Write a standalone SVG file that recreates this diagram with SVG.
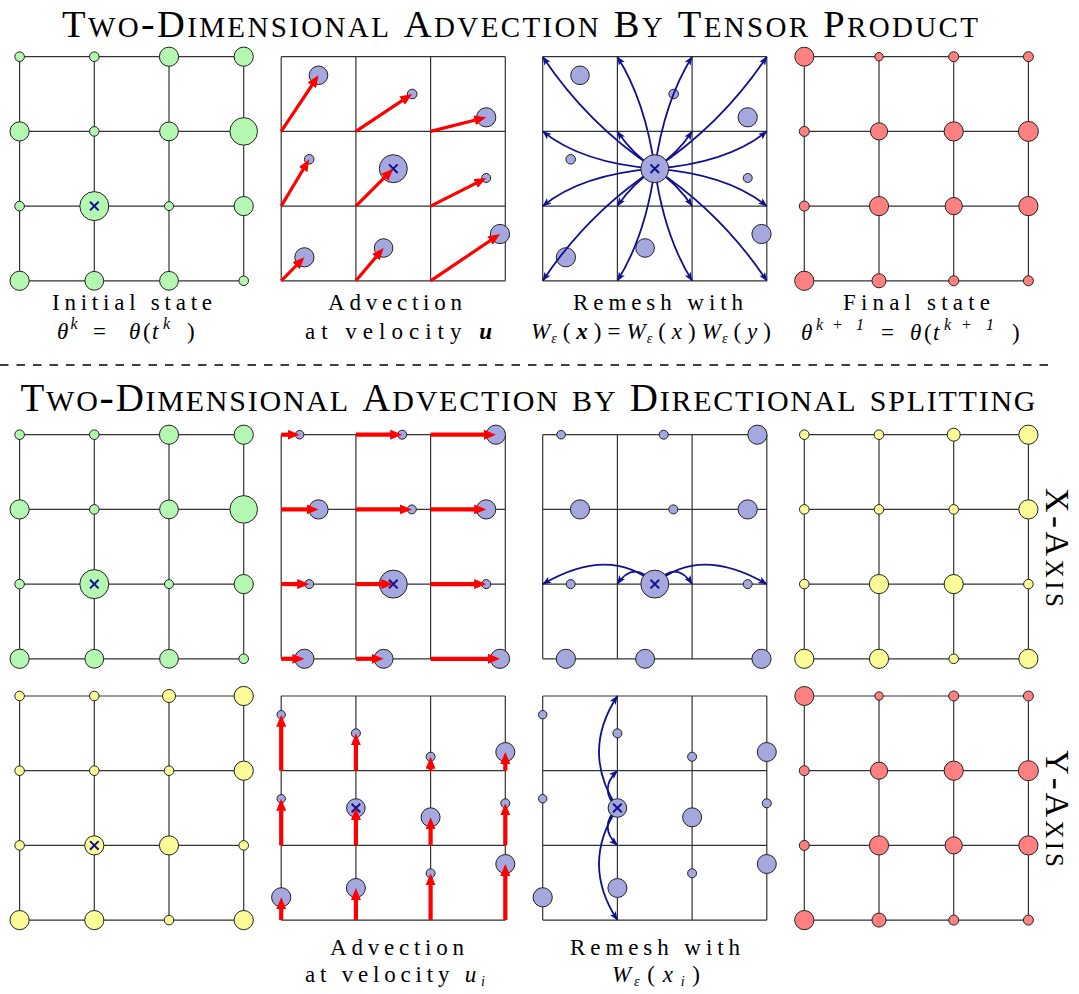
<svg xmlns="http://www.w3.org/2000/svg" xmlns:xlink="http://www.w3.org/1999/xlink" width="1079" height="994" viewBox="0 0 1079 994">
<style>
.grid{fill:none;stroke:#333;stroke-width:1.2}
.g{fill:#b3f7b0;stroke:#222;stroke-width:1}
.b{fill:#a5a7df;stroke:#222;stroke-width:1}
.r{fill:#ff8080;stroke:#222;stroke-width:1}
.y{fill:#fbfb98;stroke:#222;stroke-width:1}
.xm{fill:none;stroke:#101090;stroke-width:2}
.ra{stroke:#f00;stroke-width:3.2;fill:none;marker-end:url(#rh)}
.ra2{stroke:#f00;stroke-width:4.2;fill:none;marker-end:url(#rh)}
.na{stroke:#101090;stroke-width:1.8;fill:none;marker-end:url(#nh)}
.title{font-family:"Liberation Serif",serif;font-variant:small-caps;fill:#000}
.ax{font-family:"Liberation Serif",serif;font-size:36px;font-variant:small-caps;fill:#000}
.C2{font-size:34px}
.cap{font-family:"Liberation Serif",serif;font-size:23px;fill:#000}
.it{font-style:italic}
.bi{font-style:italic;font-weight:bold}
.sup{font-size:16px;font-style:italic}
.sub{font-size:14px;font-style:italic}
</style>
<defs>
<marker id="rh" viewBox="0 0 12 10" refX="4" refY="5" markerWidth="12" markerHeight="10" markerUnits="userSpaceOnUse" orient="auto"><path d="M0,0L12,5L0,10z" fill="#f00"/></marker>
<marker id="nh" viewBox="0 0 9 7" refX="8.5" refY="3.5" markerWidth="9" markerHeight="7" markerUnits="userSpaceOnUse" orient="auto"><path d="M0,0L9,3.5L0,7L2.2,3.5z" fill="#101090"/></marker>
<path id="grid" d="M0 0H224.1M0 74.7H224.1M0 149.4H224.1M0 224.1H224.1M0 0V224.1M74.7 0V224.1M149.4 0V224.1M224.1 0V224.1"/>
<path id="xmark" d="M-4.3-4.3L4.3 4.3M-4.3 4.3L4.3-4.3"/>
<g id="greenset" class="g">
<circle cx="0" cy="0" r="4.8"/><circle cx="74.7" cy="0" r="4.8"/><circle cx="149.4" cy="0" r="9.6"/><circle cx="224.1" cy="0" r="9.6"/>
<circle cx="0" cy="74.7" r="9.6"/><circle cx="74.7" cy="74.7" r="4.8"/><circle cx="149.4" cy="74.7" r="9.4"/><circle cx="224.1" cy="74.7" r="13.8"/>
<circle cx="0" cy="149.4" r="4.8"/><circle cx="74.7" cy="149.4" r="14.5"/><circle cx="149.4" cy="149.4" r="4.5"/><circle cx="224.1" cy="149.4" r="9.6"/>
<circle cx="0" cy="224.1" r="9.6"/><circle cx="74.7" cy="224.1" r="9.4"/><circle cx="149.4" cy="224.1" r="9.4"/><circle cx="224.1" cy="224.1" r="4.8"/>
</g>
<g id="redset" class="r">
<circle cx="0" cy="0" r="9.5"/><circle cx="74.7" cy="0" r="4.2"/><circle cx="149.4" cy="0" r="5"/><circle cx="224.1" cy="0" r="5"/>
<circle cx="0" cy="74.7" r="5"/><circle cx="74.7" cy="74.7" r="8.6"/><circle cx="149.4" cy="74.7" r="9.6"/><circle cx="224.1" cy="74.7" r="10"/>
<circle cx="0" cy="149.4" r="5"/><circle cx="74.7" cy="149.4" r="9.6"/><circle cx="149.4" cy="149.4" r="8.6"/><circle cx="224.1" cy="149.4" r="9.6"/>
<circle cx="0" cy="224.1" r="9.6"/><circle cx="74.7" cy="224.1" r="7"/><circle cx="149.4" cy="224.1" r="5"/><circle cx="224.1" cy="224.1" r="5"/>
</g>
<g id="yellowset" class="y">
<circle cx="0" cy="0" r="4.8"/><circle cx="74.7" cy="0" r="4.8"/><circle cx="149.4" cy="0" r="6.5"/><circle cx="224.1" cy="0" r="9.6"/>
<circle cx="0" cy="74.7" r="4.8"/><circle cx="74.7" cy="74.7" r="4.8"/><circle cx="149.4" cy="74.7" r="4.8"/><circle cx="224.1" cy="74.7" r="9.6"/>
<circle cx="0" cy="149.4" r="4.8"/><circle cx="74.7" cy="149.4" r="9.6"/><circle cx="149.4" cy="149.4" r="9.6"/><circle cx="224.1" cy="149.4" r="4.8"/>
<circle cx="0" cy="224.1" r="9.6"/><circle cx="74.7" cy="224.1" r="9.6"/><circle cx="149.4" cy="224.1" r="4.8"/><circle cx="224.1" cy="224.1" r="9.6"/>
</g>
<g id="blueT" class="b">
<circle cx="37.3" cy="18.6" r="9.3"/><circle cx="131" cy="37.3" r="4.8"/><circle cx="205" cy="60.6" r="9.6"/>
<circle cx="28" cy="102.6" r="4.8"/><circle cx="205" cy="121.3" r="4.5"/>
<circle cx="23.2" cy="200.6" r="9.6"/><circle cx="102.4" cy="191.3" r="9.3"/><circle cx="218.8" cy="177.3" r="9.6"/>
</g>
<g id="blueX" class="b">
<circle cx="18.4" cy="0" r="4.3"/><circle cx="121" cy="0" r="4.5"/><circle cx="214.7" cy="0" r="9.6"/>
<circle cx="37.3" cy="74.7" r="9.6"/><circle cx="130.6" cy="74.7" r="4.5"/><circle cx="205" cy="74.7" r="9.6"/>
<circle cx="28" cy="149.4" r="4.5"/><circle cx="205" cy="149.4" r="4.5"/>
<circle cx="23.2" cy="224.1" r="9.6"/><circle cx="102.4" cy="224.1" r="9.5"/><circle cx="218.8" cy="224.1" r="9.6"/>
</g>
<g id="blueY" class="b">
<circle cx="0" cy="18.7" r="4.2"/><circle cx="0" cy="102.7" r="4.2"/><circle cx="0" cy="201.3" r="9.6"/>
<circle cx="74.7" cy="37.3" r="4.5"/><circle cx="74.7" cy="192" r="9.5"/>
<circle cx="149.4" cy="60.7" r="4.5"/><circle cx="149.4" cy="121.3" r="9.5"/><circle cx="149.4" cy="177.3" r="4.5"/>
<circle cx="224.1" cy="56" r="9.5"/><circle cx="224.1" cy="107.3" r="4.5"/><circle cx="224.1" cy="168" r="9.5"/>
</g>
</defs>
<rect width="1079" height="994" fill="#fff"/>

<text class="title" x="62" y="37" font-size="41" textLength="916"><tspan font-size="38.5">T</tspan>wo-<tspan font-size="38.5">D</tspan>imensional <tspan font-size="38.5">A</tspan>dvection <tspan font-size="38.5">B</tspan>y <tspan font-size="38.5">T</tspan>ensor <tspan font-size="38.5">P</tspan>roduct</text>

<g id="p-initial">
<use href="#grid" class="grid" x="19.6" y="56.7"/>
<use href="#greenset" x="19.6" y="56.7"/>
<use href="#xmark" class="xm" x="94.3" y="206.1"/>
</g>
<g id="p-advect">
<use href="#grid" class="grid" x="281.2" y="56.7"/>
<use href="#blueT" x="281.2" y="56.7"/>
<circle class="b" cx="393.3" cy="168.7" r="14"/>
<use href="#xmark" class="xm" x="393.3" y="168.7"/>
</g>
<g id="p-remesh">
<use href="#grid" class="grid" x="542.7" y="56.7"/>
<use href="#blueT" x="542.7" y="56.7"/>
</g>
<g id="p-final">
<use href="#grid" class="grid" x="804.3" y="56.7"/>
<use href="#redset" x="804.3" y="56.7"/>
</g>

<g id="connectors-top">
<line class="ra" x1="281.2" y1="131.4" x2="314.1" y2="82"/>
<line class="ra" x1="355.9" y1="131.4" x2="405.5" y2="98.4"/>
<line class="ra" x1="430.6" y1="131.4" x2="478.5" y2="119.3"/>
<line class="ra" x1="281.2" y1="206.1" x2="305.1" y2="166.2"/>
<line class="ra" x1="355.9" y1="206.1" x2="387.6" y2="174.4"/>
<line class="ra" x1="430.6" y1="206.1" x2="479.1" y2="181.6"/>
<line class="ra" x1="281.2" y1="280.8" x2="298.8" y2="263"/>
<line class="ra" x1="355.9" y1="280.8" x2="378.4" y2="254.1"/>
<line class="ra" x1="430.6" y1="280.8" x2="493.4" y2="238.5"/>
<path class="na" d="M654.8 168.7Q587.5 123.9 542.7 56.7"/>
<path class="na" d="M654.8 168.7Q645.5 101.5 617.4 56.7"/>
<path class="na" d="M654.8 168.7Q664.1 101.5 692.1 56.7"/>
<path class="na" d="M654.8 168.7Q722 123.9 766.8 56.7"/>
<path class="na" d="M654.8 168.7Q581.9 163.1 542.7 131.4"/>
<path class="na" d="M654.8 168.7Q632.4 153.8 617.4 131.4"/>
<path class="na" d="M654.8 168.7Q677.2 153.8 692.1 131.4"/>
<path class="na" d="M654.8 168.7Q727.6 163.1 766.8 131.4"/>
<path class="na" d="M654.8 168.7Q581.9 174.3 542.7 206.1"/>
<path class="na" d="M654.8 168.7Q632.4 183.7 617.4 206.1"/>
<path class="na" d="M654.8 168.7Q677.2 183.7 692.1 206.1"/>
<path class="na" d="M654.8 168.7Q727.6 174.3 766.8 206.1"/>
<path class="na" d="M654.8 168.7Q587.5 213.5 542.7 280.8"/>
<path class="na" d="M654.8 168.7Q645.5 236 617.4 280.8"/>
<path class="na" d="M654.8 168.7Q664.1 236 692.1 280.8"/>
<path class="na" d="M654.8 168.7Q722 213.5 766.8 280.8"/>
</g>
<g id="p-remesh-center">
<circle class="b" cx="654.8" cy="168.7" r="14"/>
<use href="#xmark" class="xm" x="654.8" y="168.7"/>
</g>

<g id="captions-top">
<text class="cap" x="52" y="309.5" textLength="160">Initial state</text>
<text class="cap" y="339"><tspan class="it" x="57">θ</tspan><tspan class="sup" x="70.5" dy="-10">k</tspan><tspan x="93" dy="10">=</tspan><tspan class="it" x="129">θ</tspan><tspan x="143">(</tspan><tspan class="it" x="152">t</tspan><tspan class="sup" x="163" dy="-10">k</tspan><tspan x="187" dy="10">)</tspan></text>
<text class="cap" x="328" y="309.5" textLength="134">Advection</text>
<text class="cap" x="305" y="339" textLength="187">at velocity <tspan class="bi">u</tspan></text>
<text class="cap" x="573" y="309.5" textLength="170">Remesh with</text>
<text class="cap" x="531" y="339" textLength="240"><tspan class="it">W</tspan><tspan class="sub" dx="-5" dy="4">ε</tspan><tspan dy="-4">(</tspan><tspan class="bi">x</tspan>)=<tspan class="it">W</tspan><tspan class="sub" dx="-5" dy="4">ε</tspan><tspan dy="-4">(</tspan><tspan class="it">x</tspan>)<tspan class="it">W</tspan><tspan class="sub" dx="-5" dy="4">ε</tspan><tspan dy="-4">(</tspan><tspan class="it">y</tspan>)</text>
<text class="cap" x="843" y="310" textLength="147">Final state</text>
<text class="cap" y="340"><tspan class="it" x="801">θ</tspan><tspan class="sup" x="816 832 856" dy="-10">k+1</tspan><tspan x="881" dy="10">=</tspan><tspan class="it" x="910">θ</tspan><tspan x="924">(</tspan><tspan class="it" x="933">t</tspan><tspan class="sup" x="944 961 986" dy="-10">k+1</tspan><tspan x="1012" dy="10">)</tspan></text>
</g>

<line x1="0" y1="365" x2="1052" y2="365" stroke="#000" stroke-width="1.3" stroke-dasharray="8.5 8"/>

<text class="title" x="20.5" y="411" font-size="43" textLength="1015"><tspan font-size="39">T</tspan>wo-<tspan font-size="39">D</tspan>imensional <tspan font-size="39">A</tspan>dvection by <tspan font-size="39">D</tspan>irectional splitting</text>

<g id="p-x-initial">
<use href="#grid" class="grid" x="19.6" y="434.7"/>
<use href="#greenset" x="19.6" y="434.7"/>
<use href="#xmark" class="xm" x="94.3" y="584.1"/>
</g>
<g id="p-x-advect">
<use href="#grid" class="grid" x="281.2" y="434.7"/>
<use href="#blueX" x="281.2" y="434.7"/>
<circle class="b" cx="393.3" cy="584.1" r="14"/>
<use href="#xmark" class="xm" x="393.3" y="584.1"/>
</g>
<g id="p-x-remesh">
<use href="#grid" class="grid" x="542.7" y="434.7"/>
<use href="#blueX" x="542.7" y="434.7"/>
</g>
<g id="p-x-final">
<use href="#grid" class="grid" x="804.3" y="434.7"/>
<use href="#yellowset" x="804.3" y="434.7"/>
</g>
<g id="connectors-x">
<line class="ra2" x1="281.2" y1="434.7" x2="291.6" y2="434.7"/>
<line class="ra2" x1="355.9" y1="434.7" x2="394.2" y2="434.7"/>
<line class="ra2" x1="430.6" y1="434.7" x2="487.9" y2="434.7"/>
<line class="ra2" x1="281.2" y1="509.4" x2="310.5" y2="509.4"/>
<line class="ra2" x1="355.9" y1="509.4" x2="403.8" y2="509.4"/>
<line class="ra2" x1="430.6" y1="509.4" x2="478.2" y2="509.4"/>
<line class="ra2" x1="281.2" y1="584.1" x2="301.2" y2="584.1"/>
<line class="ra2" x1="355.9" y1="584.1" x2="385.3" y2="584.1"/>
<line class="ra2" x1="430.6" y1="584.1" x2="478.2" y2="584.1"/>
<line class="ra2" x1="281.2" y1="658.8" x2="296.4" y2="658.8"/>
<line class="ra2" x1="355.9" y1="658.8" x2="375.6" y2="658.8"/>
<line class="ra2" x1="430.6" y1="658.8" x2="492" y2="658.8"/>
<path class="na" d="M654.8 584.1Q610 545 542.7 584.1"/>
<path class="na" d="M654.8 584.1Q634 559 617.4 584.1"/>
<path class="na" d="M654.8 584.1Q675.6 559 692.1 584.1"/>
<path class="na" d="M654.8 584.1Q699.6 545 766.8 584.1"/>
</g>
<g id="p-x-remesh-center">
<circle class="b" cx="654.8" cy="584.1" r="14"/>
<use href="#xmark" class="xm" x="654.8" y="584.1"/>
</g>
<text class="ax" transform="translate(1045.5,547.5) rotate(90)" x="-59.5" y="0" textLength="119"><tspan class="C2">X</tspan>-<tspan class="C2">A</tspan>xis</text>

<g id="p-y-initial">
<use href="#grid" class="grid" x="19.6" y="696"/>
<use href="#yellowset" x="19.6" y="696"/>
<use href="#xmark" class="xm" x="94.3" y="845.4"/>
</g>
<g id="p-y-advect">
<use href="#grid" class="grid" x="281.2" y="696"/>
<use href="#blueY" x="281.2" y="696"/>
<circle class="b" cx="355.9" cy="808" r="9.3"/>
<use href="#xmark" class="xm" x="355.9" y="808"/>
</g>
<g id="p-y-remesh">
<use href="#grid" class="grid" x="542.7" y="696"/>
<use href="#blueY" x="542.7" y="696"/>
</g>
<g id="p-y-final">
<use href="#grid" class="grid" x="804.3" y="696"/>
<use href="#redset" x="804.3" y="696"/>
</g>
<g id="connectors-y">
<line class="ra2" x1="281.2" y1="770.7" x2="281.2" y2="722.7"/>
<line class="ra2" x1="281.2" y1="845.4" x2="281.2" y2="806.7"/>
<line class="ra2" x1="281.2" y1="920.1" x2="281.2" y2="905.3"/>
<line class="ra2" x1="355.9" y1="770.7" x2="355.9" y2="741.3"/>
<line class="ra2" x1="355.9" y1="845.4" x2="355.9" y2="816"/>
<line class="ra2" x1="355.9" y1="920.1" x2="355.9" y2="896"/>
<line class="ra2" x1="430.6" y1="770.7" x2="430.6" y2="764.7"/>
<line class="ra2" x1="430.6" y1="845.4" x2="430.6" y2="825.3"/>
<line class="ra2" x1="430.6" y1="920.1" x2="430.6" y2="881.3"/>
<line class="ra2" x1="505.3" y1="770.7" x2="505.3" y2="760"/>
<line class="ra2" x1="505.3" y1="845.4" x2="505.3" y2="811.3"/>
<line class="ra2" x1="505.3" y1="920.1" x2="505.3" y2="872"/>
<path class="na" d="M617.4 808Q580.6 752 617.4 696"/>
<path class="na" d="M617.4 808Q598 789.4 617.4 770.7"/>
<path class="na" d="M617.4 808Q598 826.7 617.4 845.4"/>
<path class="na" d="M617.4 808Q580.6 864 617.4 920.1"/>
</g>
<g id="p-y-remesh-center">
<circle class="b" cx="617.4" cy="808" r="9.3"/>
<use href="#xmark" class="xm" x="617.4" y="808"/>
</g>
<text class="ax" transform="translate(1045.5,808.5) rotate(90)" x="-58.5" y="0" textLength="117"><tspan class="C2">Y</tspan>-<tspan class="C2">A</tspan>xis</text>

<g id="captions-bottom">
<text class="cap" x="330" y="955" textLength="134">Advection</text>
<text class="cap" x="305" y="982" textLength="180">at velocity <tspan class="it">u</tspan><tspan class="sub" dy="4">i</tspan></text>
<text class="cap" x="570" y="955" textLength="170">Remesh with</text>
<text class="cap" x="612" y="982" textLength="88"><tspan class="it">W</tspan><tspan class="sub" dx="-5" dy="4">ε</tspan><tspan dy="-4">(</tspan><tspan class="it">x</tspan><tspan class="sub" dy="4">i</tspan><tspan dy="-4">)</tspan></text>
</g>
</svg>
